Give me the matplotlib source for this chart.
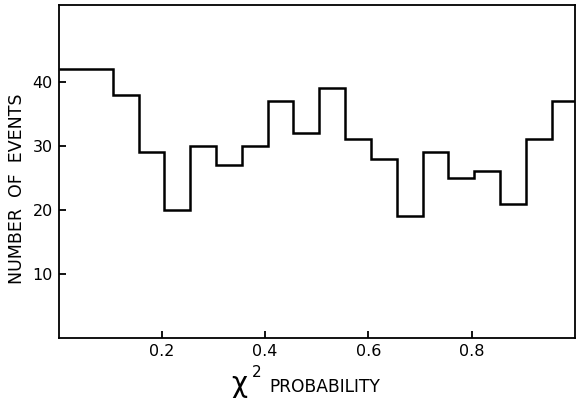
import numpy as np
import matplotlib
matplotlib.use('Agg')
import matplotlib.pyplot as plt

# bin edges and counts
edges = [0.0, 0.105, 0.155, 0.205, 0.255, 0.305, 0.355, 0.405, 0.455, 0.505,
         0.555, 0.605, 0.655, 0.705, 0.755, 0.805, 0.855, 0.905, 0.955, 1.0]
counts = [42, 38, 29, 20, 30, 27, 30, 37, 32, 39, 31, 28, 19, 29, 25, 26, 21, 31, 37]

xticks = [0.2, 0.4, 0.6, 0.8]
xticklabels = ['0.2', '0.4', '0.6', '0.8']
yticks = [10, 20, 30, 40]

plt.rcParams['font.family'] = ['DejaVu Sans']

fig = plt.figure(figsize=(5.76, 4.04), dpi=100)
ax = fig.add_axes([0.1016, 0.163, 0.8965, 0.825])

ax.stairs(counts, edges, baseline=None, color='black', linewidth=1.8)

ax.set_xlim(0, 1.0)
ax.set_ylim(0, 52)
ax.set_xticks(xticks)
ax.set_xticklabels(xticklabels)
ax.set_yticks(yticks)
ax.tick_params(direction='in', length=5, width=1.3, labelsize=11.5, pad=4)
for s in ax.spines.values():
    s.set_linewidth(1.3)

ax.set_ylabel('NUMBER  OF  EVENTS', fontsize=12.5)
ax.yaxis.set_label_coords(-0.063, 0.447)

fig.text(0.402, 0.030, 'χ', fontsize=20, ha='left', va='baseline')
fig.text(0.438, 0.066, '2', fontsize=11, ha='left', va='baseline')
fig.text(0.468, 0.030, 'PROBABILITY', fontsize=12.3, ha='left', va='baseline')

fig.savefig('out.png', dpi=100)
